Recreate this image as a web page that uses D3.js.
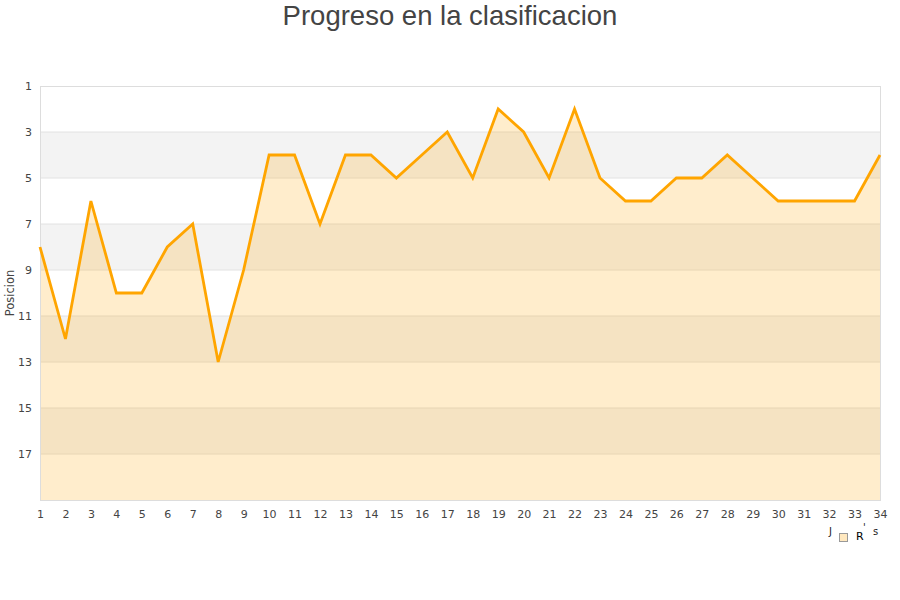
<!DOCTYPE html>
<html><head><meta charset="utf-8">
<script src="https://cdn.jsdelivr.net/npm/d3@7"></script>
<style>body{margin:0;background:#fff}</style>
</head><body>
<svg id="c" width="900" height="600"></svg>
<script>
const jornadas = d3.range(1, 35);
const posiciones = [8,12,6,10,10,8,7,13,9,4,4,7,4,4,5,4,3,5,2,3,5,2,5,6,6,5,5,4,5,6,6,6,6,4];
const yTicks = [1,3,5,7,9,11,13,15,17];
const title = "Progreso en la clasificacion";
const yLabel = "Posicion";

const svg = d3.select("#c");
const m = {l:40, r:20, t:86, b:100};
const W = 900, H = 600;
const x = d3.scaleLinear().domain([1,34]).range([m.l, W - m.r]);
const y = d3.scaleLinear().domain([1,19]).range([m.t, H - m.b]);

// bands
const bands = d3.range(1, 19, 2);
svg.append("g").selectAll("rect").data(bands).join("rect")
  .attr("x", x(1)).attr("width", x(34) - x(1))
  .attr("y", d => y(d)).attr("height", d => y(d + 2) - y(d))
  .attr("fill", (d, i) => i % 2 ? "#f3f3f3" : "#ffffff");

// grid lines
svg.append("g").selectAll("line").data(yTicks.slice(1)).join("line")
  .attr("x1", x(1)).attr("x2", x(34))
  .attr("y1", d => y(d)).attr("y2", d => y(d))
  .attr("stroke", "#e2e2e2").attr("stroke-width", 1);

// area
const area = d3.area().x((d, i) => x(jornadas[i])).y0(y(19)).y1(d => y(d));
svg.append("path").datum(posiciones).attr("d", area)
  .attr("fill", "#ffa500").attr("fill-opacity", 0.2);

// border
svg.append("rect").attr("x", x(1) + 0.5).attr("y", y(1) + 0.5)
  .attr("width", x(34) - x(1)).attr("height", y(19) - y(1))
  .attr("fill", "none").attr("stroke", "#dddddd");

// line
const line = d3.line().x((d, i) => x(jornadas[i])).y(d => y(d));
svg.append("path").datum(posiciones).attr("d", line)
  .attr("fill", "none").attr("stroke", "#ffa500").attr("stroke-width", 2.8)
  .attr("stroke-linejoin", "miter");

// axes
const yAxis = d3.axisLeft(y).tickValues(yTicks).tickSize(0).tickPadding(8);
const gy = svg.append("g").attr("transform", `translate(${x(1)},0)`).call(yAxis);
gy.select(".domain").remove();
gy.selectAll("text").attr("font-family", "DejaVu Sans").attr("font-size", 11).attr("fill", "#444");

const xAxis = d3.axisBottom(x).tickValues(jornadas).tickSize(0).tickPadding(10).tickFormat(d3.format("d"));
const gx = svg.append("g").attr("transform", `translate(0,${y(19)})`).call(xAxis);
gx.select(".domain").remove();
gx.selectAll("text").attr("font-family", "DejaVu Sans").attr("font-size", 11).attr("fill", "#444");

// title
svg.append("text").attr("x", 450).attr("y", 25).attr("text-anchor", "middle")
  .attr("font-family", "Liberation Sans, Arial").attr("font-size", 27.5).attr("fill", "#444")
  .text(title);

// y label
svg.append("text").attr("transform", `translate(14,${(y(1) + y(19)) / 2}) rotate(-90)`)
  .attr("text-anchor", "middle").attr("font-family", "DejaVu Sans").attr("font-size", 11.5).attr("fill", "#444")
  .text(yLabel);

// legend (garbled as in reference)
const lg = svg.append("g").attr("font-family", "DejaVu Sans").attr("font-size", 10).attr("fill", "#222");
lg.append("text").attr("x", 829).attr("y", 535).text("J");
lg.append("rect").attr("x", 839.5).attr("y", 533.5).attr("width", 8).attr("height", 8)
  .attr("fill", "#ffe8bf").attr("stroke", "#999");
lg.append("text").attr("x", 856).attr("y", 540).attr("font-size", 11).attr("fill", "#000").text("R");
lg.append("text").attr("x", 863).attr("y", 531).text("'");
lg.append("text").attr("x", 873).attr("y", 535).text("s");
</script>
</body></html>
